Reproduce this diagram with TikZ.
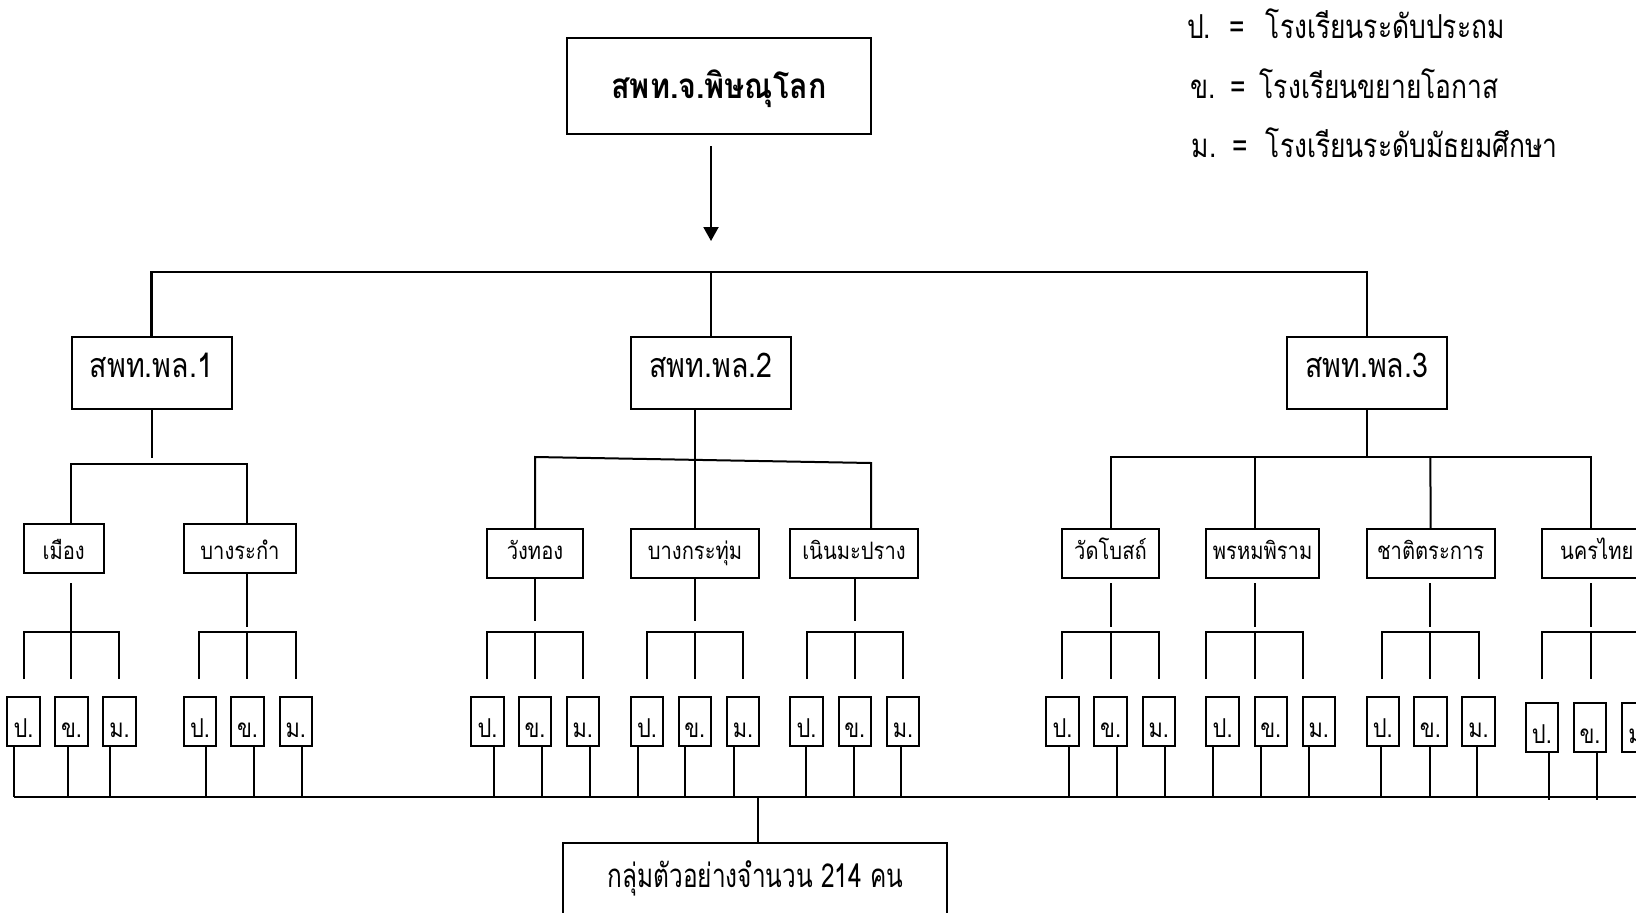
\documentclass[tikz,border=0pt]{standalone}
\usepackage{fontspec}
\usetikzlibrary{arrows.meta}
\newfontfamily\thai[Script=Thai,FakeStretch=0.84]{Loma}
\newfontfamily\thaiL[Script=Thai,FakeStretch=0.80]{Loma}
\newfontfamily\thaiC[Script=Thai,FakeStretch=0.74]{Loma}
\newfontfamily\thaiT[Script=Thai,FakeStretch=0.87]{Loma}
\begin{document}
\begin{tikzpicture}[x=1pt,y=-1pt,
  ln/.style={line width=2pt},
  bx/.style={draw,line width=2pt,inner sep=0pt,font=\thai},
  lg/.style={anchor=base west,inner sep=0pt,font=\thaiL\fontsize{33}{36}\selectfont}]
\clip (0,0) rectangle (1636,913);
\fill[white] (0,0) rectangle (1636,913);
% legend
\node[lg] (l1a) at (1187,38) {ป.};
\node[lg] (l1b) at (1229,38) {=};
\node[lg] (l1c) at (1265.7,38) {โรงเรียนระดับประถม};
\node[lg] (l2a) at (1190.7,98) {ข.};
\node[lg] (l2b) at (1230,98) {=};
\node[lg] (l2c) at (1259.6,98) {โรงเรียนขยายโอกาส};
\node[lg] (l3a) at (1191.5,157) {ม.};
\node[lg] (l3b) at (1232,157) {=};
\node[lg] (l3c) at (1265.7,157) {โรงเรียนระดับมัธยมศึกษา};
% top
\node[bx,minimum width=304,minimum height=96,text height=24pt,text depth=0pt,
  font=\thaiT\bfseries\fontsize{35}{40}\selectfont] (top) at (719,86) {สพท.จ.พิษณุโลก};
\coordinate (a1) at (711,146); \coordinate (a2) at (711,241);
\draw[ln,-{Triangle[width=15pt,length=14pt]}] (a1) -- (a2);
% level 1
\tikzset{pl/.style={bx,minimum width=160,minimum height=72,text height=8pt,text depth=0pt,
  font=\thai\fontsize{34}{40}\selectfont}}
\node[pl] (p1) at (151.5,373) {สพท.พล.1};
\node[pl] (p2) at (711,373) {สพท.พล.2};
\node[pl] (p3) at (1366.7,373) {สพท.พล.3};
\draw[line width=2.4pt] (p1.north) -- (151.5,272) -- (1366.7,272) -- (p3.north);
\draw[ln] (711,272) -- (p2.north);
% level 2 boxes
\tikzset{ds/.style={bx,minimum height=49,text depth=0pt,font=\thai\fontsize{24}{28}\selectfont},
  dsa/.style={ds,text height=21pt}, dsb/.style={ds,text height=11pt}}
\node[dsa,minimum width=80.5] (d1) at (63.75,548.5) {เมือง};
\node[dsa,minimum width=112] (d2) at (240,548.5) {บางระกำ};
\node[dsb,minimum width=96] (d3) at (535,553.5) {วังทอง};
\node[dsb,minimum width=128] (d4) at (695,553.5) {บางกระทุ่ม};
\node[dsb,minimum width=128] (d5) at (854,553.5) {เนินมะปราง};
\node[dsb,minimum width=96.3] (d6) at (1110.5,553.5) {วัดโบสถ์};
\node[dsb,minimum width=112.4] (d7) at (1262.6,553.5) {พรหมพิราม};
\node[dsb,minimum width=128.2] (d8) at (1430.6,553.5) {ชาติตระการ};
\node[dsb,minimum width=128,text width=120,align=left] (d9) at (1606,553.5) {\hspace*{14pt}นครไทย};
% pl1 branch
\draw[ln] (p1.south) -- (151.5,458);
\draw[ln] (d1.north -| 71,0) -- (71,464) -- (247,464) -- (d2.north -| 247,0);
% pl2 branch
\draw[ln] (p2.south -| 695,0) -- (d4.north -| 695,0);
\draw[ln] (d3.north) -- (535,457) -- (871,463) -- (d5.north -| 871,0);
% pl3 branch
\draw[ln] (p3.south) -- (1366.7,457);
\draw[ln] (d6.north -| 1110.6,0) -- (1110.6,457) -- (1590.5,457) -- (d9.north -| 1590.5,0);
\draw[ln] (1254.5,457) -- (d7.north -| 1254.5,0);
\draw[ln] (1430.4,457) -- (d8.north);
% district stems and forks
\draw[ln] (71,583) -- (71,632);
\draw[ln] (23.5,679) -- (23.5,632) -- (119.4,632) -- (119.4,679); \draw[ln] (71,632) -- (71,679);
\draw[ln] (247,573) -- (247,627);
\draw[ln] (199,679) -- (199,632) -- (296,632) -- (296,679); \draw[ln] (247,632) -- (247,679);
\draw[ln] (535,578) -- (535,621);
\draw[ln] (487,679) -- (487,632) -- (583,632) -- (583,679); \draw[ln] (535,632) -- (535,679);
\draw[ln] (694.5,578) -- (694.5,621);
\draw[ln] (647,679) -- (647,632) -- (743,632) -- (743,679); \draw[ln] (694.5,632) -- (694.5,679);
\draw[ln] (855,578) -- (855,621);
\draw[ln] (807,679) -- (807,632) -- (902.5,632) -- (902.5,679); \draw[ln] (855,632) -- (855,679);
\draw[ln] (1110.6,583) -- (1110.6,627);
\draw[ln] (1062.4,679) -- (1062.4,632) -- (1158.7,632) -- (1158.7,679); \draw[ln] (1110.6,632) -- (1110.6,679);
\draw[ln] (1254.5,583) -- (1254.5,627);
\draw[ln] (1206.4,679) -- (1206.4,632) -- (1302.6,632) -- (1302.6,679); \draw[ln] (1254.5,632) -- (1254.5,679);
\draw[ln] (1430.4,583) -- (1430.4,627);
\draw[ln] (1382,679) -- (1382,632) -- (1478.5,632) -- (1478.5,679); \draw[ln] (1430.4,632) -- (1430.4,679);
\draw[ln] (1590.5,583) -- (1590.5,627);
\draw[ln] (1542,679) -- (1542,632) -- (1640,632); \draw[ln] (1590.5,632) -- (1590.5,679);
% small boxes and drops
\tikzset{sb/.style={bx,minimum width=33,minimum height=49,text height=31pt,text depth=0pt,
  font=\thai\fontsize{26}{30}\selectfont}}
\foreach \n/\xa/\xb/\t/\xl in {
 s1/7/40/ป./13.8, s2/55/88/ข./68, s3/103/136/ม./109.6,
 s4/184/216/ป./206, s5/231/264/ข./253.7, s6/279.5/312/ม./302,
 s7/471/504/ป./493.6, s8/519/551/ข./542, s9/566.5/599/ม./589.5,
 s10/631/663/ป./637.7, s11/678.5/711/ข./685, s12/727/759/ม./733.5,
 s13/790/823/ป./806, s14/838.6/871/ข./853.5, s15/887/919/ม./900.5,
 s16/1046/1079/ป./1069.4, s17/1094.4/1127/ข./1116.7, s18/1142.5/1175/ม./1164.8,
 s19/1206.4/1238.8/ป./1213, s20/1254.5/1287/ข./1261, s21/1302.6/1335/ม./1308.8,
 s22/1366.5/1399/ป./1381, s23/1414/1446.6/ข./1430.4, s24/1462.3/1494.7/ม./1476.8}{
  \node[sb,minimum width={\xb-\xa}] (\n) at ({(\xa+\xb)/2},721.5) {\t};
  \draw[ln] (\n.south -| \xl,0) -- (\xl,797);
}
\foreach \n/\xa/\xb/\t/\xl in {s25/1525.7/1558/ป./1548.5, s26/1574/1606/ข./1596.6, s27/1622/1655/ม./1645}{
  \node[sb,minimum width={\xb-\xa}] (\n) at ({(\xa+\xb)/2},727.5) {\t};
  \draw[ln] (\n.south -| \xl,0) -- (\xl,800);
}
% bottom
\draw[ln] (13.8,797) -- (1640,797);
\node[bx,minimum width=384,minimum height=100,anchor=north] (bot) at (755,842) {};
\node[anchor=base,inner sep=0pt,font=\thaiC\fontsize{33}{36}\selectfont] (bt) at (755.5,887) {กลุ่มตัวอย่างจำนวน 214 คน};
\draw[ln] (757.7,797) -- (bot.north -| 757.7,0);
\end{tikzpicture}
\end{document}
